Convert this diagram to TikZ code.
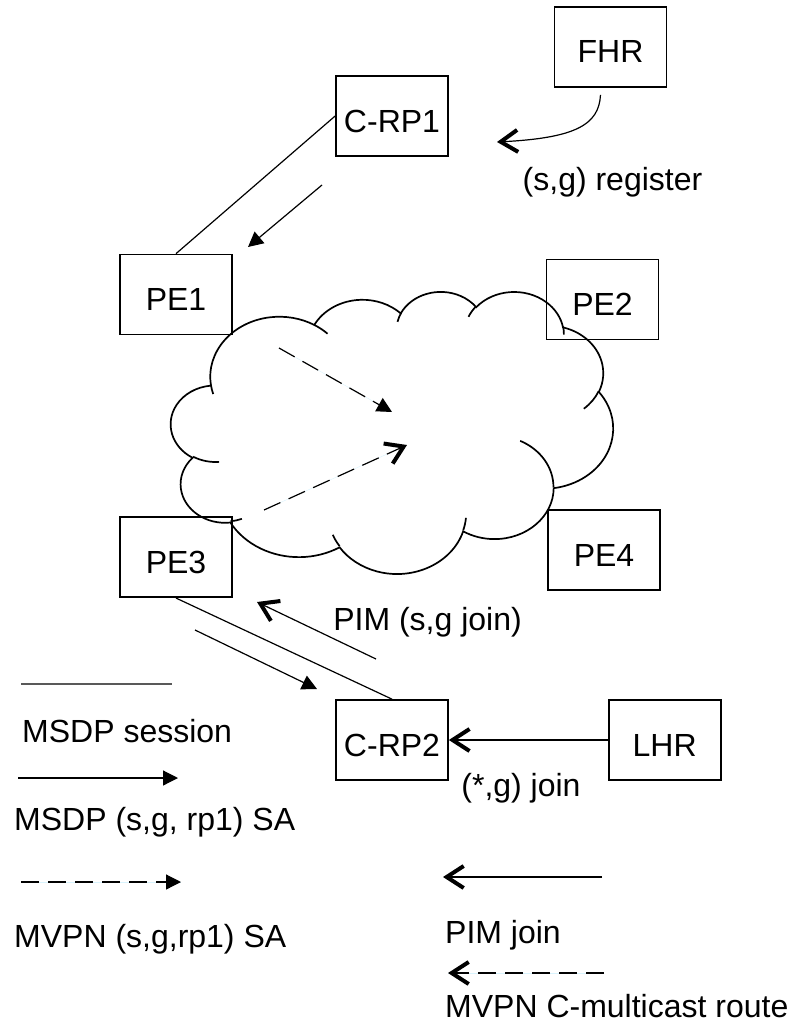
\documentclass[tikz,border=0pt]{standalone}
\usepackage{fontspec}
\setmainfont{Liberation Sans}
\usetikzlibrary{arrows.meta}
\usetikzlibrary{positioning}

% point on an ellipse given by its visual angle -> parametric angle
\pgfmathdeclarefunction{cang}{3}{\pgfmathparse{#1+asin(sin(atan2(#2*sin(#1),#3*cos(#1))-(#1)))}}
\newcommand{\puff}[4]{arc[x radius=#1,y radius=#2,start angle={cang(#3,#1,#2)},end angle={cang(#3+#4,#1,#2)}]}

\tikzset{
  router/.style={draw,line width=1.7pt,minimum width=112pt,minimum height=80pt,inner sep=0pt,text height=32pt,text depth=0pt},
  session/.style={line width=1.2pt},
  sa/.style={line width=1.2pt,-{Triangle[length=15pt,width=15pt]}},
  pimjoin/.style={line width=1.2pt,-{Straight Barb[length=17pt,width=22pt,line width'=4pt]}},
  mvpn/.style={dash pattern=on 18pt off 9pt,preaction={draw=cyan!15,solid,-}},
  lbl/.style={inner sep=0pt,anchor=base}
}

\begin{document}
\begin{tikzpicture}[x=1pt,y=-1pt,font=\fontsize{32}{38}\selectfont]
	\useasboundingbox (0,0) rectangle (803,1025);

	% provider cloud
	\begin{scope}[shift={(171,291)},x=1.02315pt,y=-0.65278pt,line width=1.7pt]
		\draw (39.00,143.70) \puff{67.53}{91.90}{-190.4875}{123.7805}
			\puff{53.33}{72.67}{-144.1024}{89.9452}
			\puff{43.65}{59.45}{-145.8079}{99.7230}
			\puff{48.57}{65.95}{-130.9861}{117.2417}
			\puff{53.33}{72.73}{-78.7089}{109.0269}
			\puff{67.75}{92.20}{-46.2673}{130.2690}
			\puff{57.85}{78.67}{0.6250}{114.0333}
			\puff{67.52}{92.15}{22.4516}{115.1726}
			\puff{77.20}{105.43}{66.2426}{75.7110}
			\puff{43.60}{59.18}{-274.9421}{146.7356}
			\puff{43.45}{59.45}{-246.8285}{152.5189} -- cycle;
		\draw (46.93,261.77) \puff{43.45}{59.45}{86.7420}{26.4295}
			(69.28,348.99) \puff{43.60}{59.18}{73.6105}{11.4475}
			(164.78,390.90) \puff{67.52}{92.15}{137.6242}{14.0811}
			(288.27,347.51) \puff{67.52}{92.15}{6.4533}{15.9984}
			(341.29,229.54) \puff{57.85}{78.67}{-70.2924}{70.9174}
			(417.98,153.54) \puff{53.33}{72.73}{30.3180}{27.7515}
			(383.24,54.26) \puff{48.57}{65.95}{-13.7443}{14.8547}
			(290.78,39.52) \puff{48.57}{65.95}{-149.1815}{18.1903}
			(221.41,47.20) \puff{43.65}{59.45}{-163.4943}{17.6980}
			(140.00,51.92) \puff{67.53}{91.90}{-66.7070}{12.3194}
			(41.27,157.89) \puff{67.53}{91.90}{157.6544}{11.8582};
	\end{scope}

	% routers
	\node[router] (fhr) at (610.5,47) {FHR};
	\node[router] (crp1) at (392,116) {C-RP1};
	\node[router] (pe1) at (176,294.5) {PE1};
	\node[router] (pe2) at (602.5,299.5) {PE2};
	\node[router] (pe3) [below=181pt of pe1] {PE3};
	\node[router] (pe4) at (604,550) {PE4};
	\node[router] (crp2) at (392,740) {C-RP2};
	\node[router] (lhr) [right=159pt of crp2] {LHR};

	% msdp sessions
	\draw[session] (crp1.west) -- (pe1.north);
	\draw[session] (pe3.south) -- (crp2.north);

	% sa messages
	\coordinate (sa1s) at (322,185);
	\coordinate (sa1e) at (248,247);
	\draw[sa] (sa1s) -- (sa1e);
	\coordinate (sa2s) at (195,630);
	\coordinate (sa2e) at (317,689);
	\draw[sa] (sa2s) -- (sa2e);
	\coordinate (mv1s) at (279,348);
	\coordinate (mv1e) at (392,412);
	\draw[sa,mvpn] (mv1s) -- (mv1e);

	% joins
	\coordinate (regtip) at (497,142);
	\draw[pimjoin] ([shift={(-10,7)}]fhr.south) .. controls (599,125) and (575,138) .. (regtip);
	\coordinate (pims) at (376,659);
	\coordinate (pime) at (257,602);
	\draw[pimjoin] (pims) -- (pime);
	\draw[pimjoin] (lhr) -- (crp2);
	\coordinate (cm1s) at (264,510);
	\coordinate (cm1e) at (407,445);
	\draw[pimjoin,mvpn] (cm1s) -- (cm1e);

	% labels
	\node[lbl] (reglbl) at (612.5,190.5) {(s,g) register};
	\node[lbl] (pimlbl) at (427.5,630) {PIM (s,g join)};
	\node[lbl] (starlbl) at (521,796.5) {(*,g) join};

	% legend
	\coordinate (k1a) at (21,684);
	\coordinate (k1b) at (172,684);
	\draw[session,line width=1.6pt,black!65] (k1a) -- (k1b);
	\node[lbl,anchor=base west] (k1) at (22,742) {MSDP session};
	\coordinate (k2a) at (18,778);
	\coordinate (k2b) at (178,778);
	\draw[sa] (k2a) -- (k2b);
	\node[lbl,anchor=base west] (k2) at (14,830) {MSDP (s,g, rp1) SA};
	\coordinate (k3a) at (21,882);
	\coordinate (k3b) at (181,882);
	\draw[sa,mvpn] (k3a) -- (k3b);
	\node[lbl,anchor=base west] (k3) at (14,947) {MVPN (s,g,rp1) SA};
	\coordinate (k4a) at (602,877);
	\coordinate (k4b) at (443,877);
	\draw[pimjoin] (k4a) -- (k4b);
	\node[lbl,anchor=base west] (k4) at (445,943) {PIM join};
	\coordinate (k5a) at (604,973);
	\coordinate (k5b) at (448,973);
	\draw[pimjoin,mvpn] (k5a) -- (k5b);
	\node[lbl,anchor=base west] (k5) at (445,1017) {MVPN C-multicast route};
\end{tikzpicture}
\end{document}
